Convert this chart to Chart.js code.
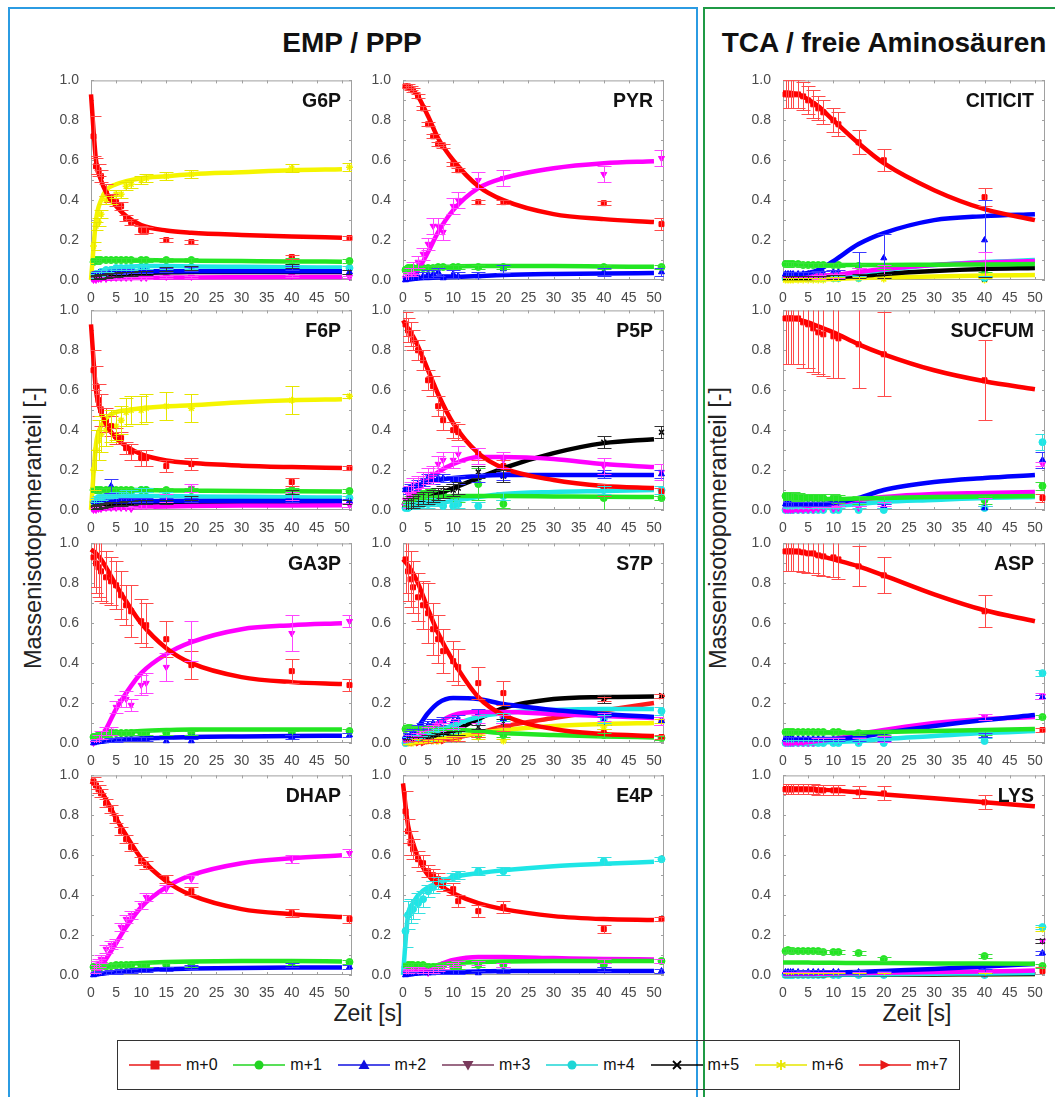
<!DOCTYPE html>
<html>
<head>
<meta charset="utf-8">
<script src="https://cdn.jsdelivr.net/npm/chart.js@4.4.0/dist/chart.umd.min.js"></script>
<style>
  body { margin: 0; width: 1055px; height: 1097px; overflow: hidden; background: #fff; position: relative; font-family: "Liberation Sans", Arial, sans-serif; }
  .frame { position: absolute; box-sizing: border-box; }
  .head { position: absolute; top: 27px; font-weight: bold; font-size: 28px; color: #111; text-align: center; white-space: nowrap; }
  .plabel { position: absolute; font-weight: bold; font-size: 19.5px; color: #111; text-align: right; white-space: nowrap; }
  .ylab { position: absolute; font-size: 23.5px; color: #222; white-space: nowrap; transform: translate(-50%, -50%) rotate(-90deg); }
  .xlab { position: absolute; font-size: 23px; color: #222; white-space: nowrap; transform: translate(-50%, -50%); }
  canvas { position: absolute; }
  #legend { position: absolute; left: 117px; top: 1040px; width: 843px; height: 50px; border: 1px solid #333; box-sizing: border-box; }
  .litem { position: absolute; top: 14px; height: 20px; font-size: 16px; color: #111; }
  .litem svg { position: absolute; left: 0; top: 0; }
  .litem span { position: absolute; left: 58px; top: 1px; white-space: nowrap; }
</style>
</head>
<body>
<div class="frame" style="left:8px;top:7px;width:690px;height:1110px;border:2.5px solid #2b9be2;"></div>
<div class="frame" style="left:703px;top:7px;width:400px;height:1110px;border:2.5px solid #1f9a45;"></div>
<div class="head" style="left:352px;transform:translateX(-50%);">EMP / PPP</div>
<div class="head" style="left:884px;transform:translateX(-50%);">TCA / freie Aminosäuren</div>
<div class="ylab" style="left:33px;top:528px;">Massenisotopomeranteil [-]</div>
<div class="ylab" style="left:718px;top:528px;">Massenisotopomeranteil [-]</div>
<div class="xlab" style="left:368px;top:1013px;">Zeit [s]</div>
<div class="xlab" style="left:917px;top:1013px;">Zeit [s]</div>
<div id="legend"></div>

<script>
// shared time grids
const tFit = [0, 1, 2, 3, 5, 7, 10, 15, 20, 30, 40, 50];
const tObs = [0.5, 1, 1.5, 2, 3, 4, 5, 6, 7, 8, 10, 11, 15, 20, 40, 51.5];

const isoLabels = ['m+0', 'm+1', 'm+2', 'm+3', 'm+4', 'm+5', 'm+6', 'm+7'];
const isoColors = ['#ff0000', '#22e622', '#0000ff', '#ff00ff', '#1ee6e6', '#000000', '#f5f500', '#ff1a1a'];
const errColors = ['#ff4a4a', '#3ae03a', '#3a3aff', '#ff45ff', '#35e0e0', '#303030', '#e6e600', '#ff4a4a'];
const legendColors = ['#e81818', '#22d422', '#1010e0', '#7a3a5c', '#1ed6d6', '#000000', '#e6e600', '#e81818'];
const isoMarkers = ['rect', 'circle', 'triangle', 'triangle', 'circle', 'crossRot', 'star', 'triangle'];
const isoRotation = [0, 0, 0, 180, 0, 0, 0, 90];

// ---- G6P ----
const g6pFit = [
  [0.93, 0.60, 0.50, 0.44, 0.37, 0.32, 0.275, 0.248, 0.237, 0.226, 0.218, 0.212],
  [0.095, 0.10, 0.10, 0.10, 0.10, 0.10, 0.10, 0.098, 0.097, 0.095, 0.093, 0.092],
  [0.03, 0.034, 0.037, 0.039, 0.041, 0.042, 0.043, 0.044, 0.044, 0.044, 0.044, 0.044],
  [0.0, 0.003, 0.005, 0.006, 0.008, 0.009, 0.01, 0.012, 0.013, 0.014, 0.015, 0.015],
  [0.02, 0.03, 0.04, 0.05, 0.06, 0.065, 0.07, 0.07, 0.068, 0.066, 0.064, 0.062],
  [0.01, 0.015, 0.02, 0.022, 0.027, 0.03, 0.035, 0.038, 0.04, 0.04, 0.04, 0.04],
  [0.0, 0.30, 0.40, 0.45, 0.48, 0.495, 0.51, 0.52, 0.53, 0.54, 0.55, 0.555]
];
const g6pObs = [
  [0.72, 0.57, 0.55, 0.52, 0.45, 0.41, 0.39, 0.37, 0.31, 0.29, 0.25, 0.25, 0.20, 0.19, 0.115, 0.21],
  [0.09, 0.10, 0.10, 0.10, 0.10, 0.10, 0.10, 0.10, 0.10, 0.10, 0.10, 0.10, 0.10, 0.10, 0.10, 0.095],
  [0.03, 0.03, 0.035, 0.035, 0.04, 0.04, 0.04, 0.04, 0.045, 0.045, 0.045, 0.045, 0.05, 0.055, 0.06, 0.04],
  [0.0, 0.0, 0.005, 0.005, 0.005, 0.01, 0.01, 0.01, 0.01, 0.01, 0.01, 0.01, 0.015, 0.015, 0.02, 0.015],
  [0.02, 0.03, 0.03, 0.04, 0.05, 0.05, 0.06, 0.06, 0.06, 0.06, 0.065, 0.065, 0.065, 0.065, 0.07, 0.06],
  [0.01, 0.015, 0.015, 0.02, 0.02, 0.025, 0.025, 0.03, 0.03, 0.03, 0.035, 0.035, 0.055, 0.06, 0.07, 0.04],
  [0.17, 0.27, 0.29, 0.33, 0.40, 0.40, 0.43, 0.43, 0.47, 0.48, 0.50, 0.51, 0.52, 0.53, 0.56, 0.565]
];
const g6pErr = [
  [0.1, 0.04, 0.03, 0.03, 0.03, 0.02, 0.02, 0.02, 0.015, 0.015, 0.02, 0.015, 0.01, 0.01, 0.01, 0.01],
  0.01, 0.01, 0.005, 0.01, 0.01, 0.02
];

// ---- PYR ----
const pyrFit = [
  [0.97, 0.965, 0.95, 0.92, 0.82, 0.71, 0.60, 0.47, 0.40, 0.33, 0.305, 0.29],
  [0.05, 0.055, 0.058, 0.06, 0.063, 0.065, 0.068, 0.07, 0.07, 0.07, 0.068, 0.066],
  [0.0, 0.002, 0.005, 0.008, 0.01, 0.012, 0.015, 0.02, 0.025, 0.03, 0.033, 0.035],
  [0.0, 0.005, 0.02, 0.05, 0.14, 0.24, 0.35, 0.46, 0.51, 0.56, 0.585, 0.595]
];
const pyrObs = [
  [0.97, 0.97, 0.96, 0.95, 0.92, 0.86, 0.78, 0.72, 0.68, 0.67, 0.58, 0.55, 0.39, 0.39, 0.385, 0.28],
  [0.05, 0.06, 0.06, 0.06, 0.06, 0.06, 0.06, 0.06, 0.065, 0.065, 0.065, 0.065, 0.065, 0.065, 0.065, 0.065],
  [0.0, 0.01, 0.01, 0.02, 0.02, 0.02, 0.03, 0.03, 0.04, 0.01, 0.03, 0.02, 0.02, 0.055, 0.04, 0.04],
  [0.01, 0.02, 0.04, 0.06, 0.09, 0.13, 0.18, 0.27, 0.27, 0.24, 0.37, 0.40, 0.50, 0.51, 0.53, 0.61]
];
const pyrErr = [
  [0.01, 0.01, 0.01, 0.01, 0.01, 0.01, 0.01, 0.01, 0.01, 0.01, 0.01, 0.01, 0.01, 0.01, 0.01, 0.03],
  0.01, 0.02,
  [0.02, 0.02, 0.02, 0.03, 0.03, 0.03, 0.03, 0.04, 0.04, 0.04, 0.04, 0.04, 0.04, 0.04, 0.04, 0.04]
];

// ---- CITICIT ----
const citFit = [
  [0.94, 0.94, 0.935, 0.93, 0.905, 0.87, 0.80, 0.685, 0.585, 0.45, 0.355, 0.30],
  [0.075, 0.075, 0.075, 0.075, 0.075, 0.075, 0.075, 0.075, 0.075, 0.077, 0.078, 0.08],
  [0.03, 0.03, 0.03, 0.03, 0.035, 0.05, 0.095, 0.18, 0.235, 0.30, 0.32, 0.33],
  [0.02, 0.02, 0.02, 0.02, 0.02, 0.022, 0.025, 0.04, 0.055, 0.075, 0.088, 0.095],
  [0.02, 0.02, 0.02, 0.02, 0.02, 0.022, 0.025, 0.035, 0.05, 0.075, 0.09, 0.10],
  [0.01, 0.01, 0.01, 0.01, 0.01, 0.012, 0.015, 0.02, 0.03, 0.045, 0.055, 0.06],
  [0.0, 0.0, 0.0, 0.0, 0.002, 0.003, 0.005, 0.01, 0.013, 0.018, 0.022, 0.025]
];
const citObs = [
  [0.93, 0.93, 0.93, 0.93, 0.93, 0.92, 0.90, 0.88, 0.86, 0.84, 0.80, 0.78, 0.69, 0.60, 0.415, null],
  [0.08, 0.08, 0.08, 0.08, 0.08, 0.075, 0.075, 0.075, 0.075, 0.075, 0.075, 0.075, 0.07, 0.065, 0.03, null],
  [0.03, 0.03, 0.03, 0.03, 0.03, 0.03, 0.03, 0.03, 0.035, 0.035, 0.04, 0.04, 0.07, 0.11, 0.20, null],
  [0.01, 0.01, 0.01, 0.01, 0.01, 0.01, 0.01, 0.01, 0.015, 0.015, 0.02, 0.02, 0.04, 0.045, 0.06, null],
  [0.01, 0.01, 0.01, 0.01, 0.01, 0.01, 0.01, 0.01, 0.01, 0.01, 0.01, 0.01, 0.01, 0.02, 0.01, null],
  [0.01, 0.01, 0.01, 0.01, 0.01, 0.01, 0.01, 0.01, 0.01, 0.01, 0.015, 0.015, 0.02, 0.02, 0.005, null],
  [0.0, 0.0, 0.0, 0.0, 0.0, 0.0, 0.0, 0.0, 0.0, 0.0, 0.005, 0.005, 0.005, 0.005, 0.0, null]
];
const citErr = [
  [0.07, 0.07, 0.07, 0.07, 0.07, 0.07, 0.07, 0.07, 0.06, 0.06, 0.06, 0.06, 0.06, 0.055, 0.045, 0],
  0.01,
  [0.01, 0.01, 0.01, 0.01, 0.01, 0.01, 0.01, 0.01, 0.01, 0.01, 0.01, 0.01, 0.07, 0.12, 0.2, 0],
  [0.01, 0.01, 0.01, 0.01, 0.01, 0.01, 0.01, 0.01, 0.01, 0.01, 0.01, 0.01, 0.02, 0.03, 0.08, 0],
  0.01, 0.01, 0.01
];

// ---- F6P ----
const f6pFit = [
  [0.93, 0.60, 0.49, 0.43, 0.36, 0.32, 0.28, 0.248, 0.235, 0.222, 0.215, 0.21],
  [0.10, 0.10, 0.10, 0.10, 0.10, 0.10, 0.10, 0.098, 0.097, 0.095, 0.094, 0.093],
  [0.03, 0.035, 0.038, 0.04, 0.042, 0.043, 0.044, 0.045, 0.045, 0.045, 0.045, 0.045],
  [0.0, 0.003, 0.005, 0.007, 0.01, 0.012, 0.015, 0.018, 0.02, 0.022, 0.023, 0.024],
  [0.03, 0.04, 0.05, 0.06, 0.065, 0.07, 0.07, 0.07, 0.068, 0.066, 0.064, 0.062],
  [0.01, 0.015, 0.02, 0.022, 0.027, 0.03, 0.035, 0.038, 0.04, 0.04, 0.04, 0.04],
  [0.0, 0.33, 0.42, 0.46, 0.49, 0.50, 0.51, 0.52, 0.525, 0.54, 0.55, 0.555]
];
const f6pObs = [
  [0.70, 0.62, 0.55, 0.50, 0.45, 0.42, 0.37, 0.36, 0.31, 0.29, 0.26, 0.26, 0.22, 0.23, 0.14, 0.21],
  [0.10, 0.10, 0.10, 0.10, 0.10, 0.10, 0.10, 0.10, 0.10, 0.10, 0.10, 0.10, 0.10, 0.10, 0.10, 0.095],
  [0.03, 0.03, 0.04, 0.04, 0.05, 0.12, 0.05, 0.05, 0.05, 0.05, 0.05, 0.05, 0.05, 0.05, 0.05, 0.045],
  [0.0, 0.0, 0.005, 0.005, 0.01, 0.01, 0.01, 0.01, 0.01, 0.005, 0.02, 0.02, 0.06, 0.11, 0.07, 0.025],
  [0.04, 0.05, 0.06, 0.06, 0.07, 0.07, 0.08, 0.08, 0.09, 0.09, 0.10, 0.10, 0.08, 0.06, 0.09, 0.06],
  [0.01, 0.015, 0.02, 0.02, 0.025, 0.03, 0.03, 0.03, 0.035, 0.035, 0.04, 0.04, 0.04, 0.06, 0.09, 0.04],
  [0.20, 0.30, 0.35, 0.38, 0.40, 0.42, 0.42, 0.45, 0.49, 0.50, 0.50, 0.51, 0.52, 0.51, 0.55, 0.57]
];
const f6pErr = [
  [0.1, 0.1, 0.08, 0.08, 0.06, 0.05, 0.04, 0.03, 0.03, 0.04, 0.04, 0.04, 0.03, 0.03, 0.02, 0.01],
  0.01,
  [0.01, 0.01, 0.01, 0.01, 0.01, 0.035, 0.01, 0.01, 0.01, 0.01, 0.01, 0.01, 0.01, 0.01, 0.01, 0.01],
  [0.01, 0.01, 0.01, 0.01, 0.01, 0.01, 0.01, 0.01, 0.01, 0.01, 0.01, 0.01, 0.02, 0.02, 0.02, 0.01],
  0.01, 0.01,
  [0.1, 0.1, 0.1, 0.09, 0.08, 0.08, 0.07, 0.07, 0.07, 0.07, 0.07, 0.07, 0.07, 0.07, 0.07, 0.01]
];

// ---- P5P ----
const p5pFit = [
  [0.95, 0.91, 0.87, 0.82, 0.70, 0.58, 0.435, 0.285, 0.21, 0.15, 0.12, 0.11],
  [0.03, 0.04, 0.05, 0.055, 0.06, 0.065, 0.07, 0.07, 0.07, 0.068, 0.066, 0.065],
  [0.10, 0.11, 0.12, 0.12, 0.14, 0.15, 0.16, 0.17, 0.175, 0.175, 0.175, 0.175],
  [0.02, 0.05, 0.08, 0.10, 0.15, 0.19, 0.23, 0.265, 0.265, 0.255, 0.23, 0.215],
  [0.01, 0.015, 0.02, 0.025, 0.03, 0.035, 0.045, 0.065, 0.08, 0.09, 0.095, 0.10],
  [0.01, 0.02, 0.03, 0.04, 0.06, 0.08, 0.11, 0.16, 0.21, 0.285, 0.335, 0.355]
];
const p5pObs = [
  [0.93, 0.90, 0.88, 0.85, 0.80, 0.75, 0.65, 0.62, 0.52, 0.45, 0.40, 0.39, 0.28, 0.22, 0.10, 0.09],
  [0.03, 0.04, 0.05, 0.06, 0.07, 0.08, 0.09, 0.09, 0.08, 0.08, 0.06, 0.06, 0.13, 0.03, 0.06, 0.06],
  [0.10, 0.10, 0.11, 0.12, 0.13, 0.14, 0.16, 0.15, 0.16, 0.16, 0.15, 0.15, 0.16, 0.17, 0.18, 0.18],
  [0.05, 0.08, 0.10, 0.12, 0.13, 0.15, 0.17, 0.18, 0.23, 0.25, 0.25, 0.28, 0.27, 0.25, 0.22, 0.19],
  [0.01, 0.01, 0.02, 0.02, 0.02, 0.03, 0.03, 0.04, 0.04, 0.02, 0.02, 0.03, 0.02, 0.07, 0.10, 0.10],
  [0.02, 0.03, 0.03, 0.04, 0.05, 0.06, 0.06, 0.07, 0.08, 0.09, 0.10, 0.11, 0.19, 0.17, 0.34, 0.39]
];
const p5pErr = [
  [0.06, 0.06, 0.06, 0.05, 0.05, 0.05, 0.05, 0.05, 0.05, 0.05, 0.04, 0.04, 0.03, 0.03, 0.03, 0.02],
  [0.02, 0.02, 0.02, 0.02, 0.02, 0.02, 0.02, 0.02, 0.02, 0.02, 0.02, 0.02, 0.08, 0.02, 0.06, 0.01],
  0.02, 0.04, 0.02, 0.03
];

// ---- SUCFUM ----
const sucFit = [
  [0.96, 0.96, 0.958, 0.955, 0.94, 0.92, 0.89, 0.83, 0.78, 0.70, 0.645, 0.605],
  [0.06, 0.06, 0.06, 0.06, 0.058, 0.055, 0.055, 0.058, 0.06, 0.065, 0.068, 0.07],
  [0.03, 0.03, 0.03, 0.03, 0.03, 0.03, 0.035, 0.06, 0.10, 0.14, 0.16, 0.175],
  [0.0, 0.0, 0.0, 0.0, 0.005, 0.01, 0.03, 0.05, 0.065, 0.08, 0.085, 0.09],
  [0.01, 0.01, 0.01, 0.01, 0.012, 0.015, 0.02, 0.03, 0.04, 0.05, 0.06, 0.065]
];
const sucObs = [
  [0.96, 0.96, 0.96, 0.96, 0.96, 0.94, 0.93, 0.91, 0.89, 0.88, 0.87, 0.86, 0.83, 0.78, 0.65, 0.06],
  [0.07, 0.07, 0.07, 0.07, 0.065, 0.06, 0.06, 0.06, 0.06, 0.06, 0.06, 0.055, 0.05, 0.05, 0.05, 0.12],
  [0.03, 0.03, 0.03, 0.03, 0.03, 0.03, 0.03, 0.03, 0.03, 0.03, 0.03, 0.03, 0.03, 0.02, 0.01, 0.25],
  [0.0, 0.0, 0.0, 0.0, 0.0, 0.0, 0.0, 0.0, 0.005, 0.005, 0.005, 0.01, 0.01, 0.03, 0.04, 0.23],
  [0.0, 0.0, 0.0, 0.0, 0.0, 0.0, 0.0, 0.0, 0.0, 0.0, 0.0, 0.0, 0.0, 0.0, 0.01, 0.34]
];
const sucErr = [
  [0.23, 0.23, 0.23, 0.23, 0.23, 0.23, 0.22, 0.22, 0.21, 0.21, 0.21, 0.2, 0.22, 0.21, 0.2, 0.02],
  0.02,
  [0.01, 0.01, 0.01, 0.01, 0.01, 0.01, 0.01, 0.01, 0.01, 0.01, 0.01, 0.01, 0.01, 0.01, 0.01, 0.04],
  [0.01, 0.01, 0.01, 0.01, 0.01, 0.01, 0.01, 0.01, 0.01, 0.01, 0.01, 0.01, 0.01, 0.01, 0.02, 0.01],
  [0.01, 0.01, 0.01, 0.01, 0.01, 0.01, 0.01, 0.01, 0.01, 0.01, 0.01, 0.01, 0.01, 0.01, 0.01, 0.04]
];

// ---- GA3P ----
const ga3pFit = [
  [0.97, 0.95, 0.92, 0.88, 0.79, 0.71, 0.60, 0.475, 0.40, 0.33, 0.305, 0.295],
  [0.03, 0.035, 0.04, 0.045, 0.05, 0.055, 0.06, 0.065, 0.068, 0.068, 0.068, 0.068],
  [0.0, 0.003, 0.006, 0.01, 0.015, 0.02, 0.022, 0.026, 0.03, 0.033, 0.035, 0.036],
  [0.0, 0.005, 0.03, 0.07, 0.17, 0.25, 0.35, 0.445, 0.505, 0.57, 0.59, 0.60]
];
const ga3pObs = [
  [0.93, 0.90, 0.88, 0.86, 0.83, 0.81, 0.79, 0.74, 0.69, 0.66, 0.61, 0.59, 0.52, 0.39, 0.36, 0.29],
  [0.03, 0.03, 0.04, 0.04, 0.04, 0.05, 0.05, 0.05, 0.05, 0.05, 0.05, 0.05, 0.05, 0.05, 0.05, 0.06],
  [0.0, 0.005, 0.01, 0.01, 0.01, 0.015, 0.015, 0.02, 0.02, 0.02, 0.02, 0.02, 0.01, 0.01, 0.03, 0.04],
  [0.0, 0.01, 0.02, 0.04, 0.06, 0.06, 0.18, 0.21, 0.22, 0.19, 0.29, 0.30, 0.38, 0.51, 0.55, 0.61]
];
const ga3pErr = [
  [0.15, 0.15, 0.15, 0.15, 0.13, 0.12, 0.12, 0.12, 0.10, 0.13, 0.11, 0.11, 0.09, 0.07, 0.06, 0.03],
  0.01, 0.01,
  [0.01, 0.01, 0.02, 0.02, 0.02, 0.02, 0.03, 0.03, 0.04, 0.03, 0.05, 0.05, 0.07, 0.10, 0.09, 0.03]
];

// ---- S7P ----
const s7pFit = [
  [0.92, 0.89, 0.85, 0.80, 0.67, 0.55, 0.41, 0.23, 0.14, 0.07, 0.045, 0.035],
  [0.08, 0.08, 0.08, 0.078, 0.075, 0.072, 0.068, 0.06, 0.05, 0.04, 0.033, 0.028],
  [0.02, 0.03, 0.05, 0.08, 0.15, 0.20, 0.225, 0.22, 0.195, 0.165, 0.145, 0.13],
  [0.01, 0.015, 0.02, 0.03, 0.06, 0.10, 0.14, 0.155, 0.155, 0.145, 0.135, 0.125],
  [0.005, 0.01, 0.015, 0.02, 0.04, 0.06, 0.09, 0.13, 0.15, 0.165, 0.17, 0.17],
  [0.01, 0.012, 0.015, 0.02, 0.03, 0.04, 0.06, 0.12, 0.175, 0.22, 0.23, 0.233],
  [0.0, 0.0, 0.002, 0.005, 0.01, 0.02, 0.03, 0.05, 0.065, 0.085, 0.095, 0.10],
  [0.0, 0.0, 0.001, 0.002, 0.006, 0.012, 0.025, 0.05, 0.083, 0.125, 0.163, 0.20]
];
const s7pObs = [
  [0.92, 0.86, 0.82, 0.78, 0.73, 0.69, 0.65, 0.57, 0.52, 0.46, 0.41, 0.38, 0.30, 0.25, 0.05, 0.03],
  [0.07, 0.075, 0.075, 0.07, 0.07, 0.07, 0.065, 0.06, 0.06, 0.06, 0.05, 0.05, 0.04, 0.04, 0.04, 0.025],
  [0.03, 0.03, 0.04, 0.05, 0.07, 0.08, 0.09, 0.10, 0.10, 0.11, 0.11, 0.12, 0.15, 0.12, 0.11, 0.11],
  [0.01, 0.01, 0.02, 0.02, 0.03, 0.04, 0.06, 0.07, 0.08, 0.08, 0.09, 0.10, 0.12, 0.12, 0.13, 0.11],
  [0.0, 0.01, 0.01, 0.01, 0.02, 0.02, 0.03, 0.04, 0.05, 0.06, 0.07, 0.08, 0.11, 0.13, 0.12, 0.16],
  [0.01, 0.01, 0.01, 0.02, 0.02, 0.02, 0.03, 0.03, 0.04, 0.04, 0.05, 0.05, 0.08, 0.10, 0.22, 0.235],
  [0.0, 0.0, 0.0, 0.0, 0.01, 0.01, 0.01, 0.01, 0.01, 0.02, 0.02, 0.02, 0.03, 0.01, 0.08, 0.11],
  [0.0, 0.0, 0.0, 0.0, 0.0, 0.0, 0.01, 0.01, 0.01, 0.01, 0.02, 0.02, 0.04, 0.07, 0.22, 0.235]
];
const s7pErr = [
  [0.17, 0.15, 0.14, 0.13, 0.12, 0.12, 0.15, 0.13, 0.12, 0.11, 0.10, 0.09, 0.08, 0.06, 0.02, 0.01],
  0.01, 0.02, 0.02, 0.02,
  [0.01, 0.01, 0.01, 0.01, 0.01, 0.01, 0.01, 0.01, 0.01, 0.01, 0.01, 0.01, 0.01, 0.02, 0.02, 0.01],
  0.01, 0.01
];

// ---- ASP ----
const aspFit = [
  [0.96, 0.96, 0.958, 0.955, 0.95, 0.94, 0.92, 0.885, 0.84, 0.745, 0.665, 0.61],
  [0.055, 0.055, 0.055, 0.055, 0.052, 0.05, 0.05, 0.052, 0.055, 0.06, 0.065, 0.07],
  [0.02, 0.02, 0.02, 0.02, 0.02, 0.02, 0.02, 0.03, 0.05, 0.085, 0.115, 0.14],
  [0.0, 0.0, 0.0, 0.0, 0.005, 0.01, 0.02, 0.045, 0.065, 0.10, 0.12, 0.13],
  [0.0, 0.0, 0.0, 0.0, 0.0, 0.002, 0.005, 0.01, 0.02, 0.035, 0.05, 0.06]
];
const aspObs = [
  [0.96, 0.96, 0.96, 0.96, 0.96, 0.955, 0.95, 0.95, 0.94, 0.935, 0.93, 0.92, 0.885, 0.84, 0.66, 0.065],
  [0.055, 0.055, 0.055, 0.055, 0.055, 0.055, 0.055, 0.055, 0.055, 0.055, 0.055, 0.055, 0.05, 0.05, 0.05, 0.13],
  [0.02, 0.02, 0.02, 0.02, 0.02, 0.02, 0.02, 0.02, 0.02, 0.02, 0.02, 0.02, 0.02, 0.02, 0.04, 0.23],
  [0.0, 0.0, 0.0, 0.0, 0.0, 0.0, 0.0, 0.0, 0.01, 0.01, 0.01, 0.01, 0.01, 0.02, 0.13, 0.235],
  [0.0, 0.0, 0.0, 0.0, 0.0, 0.0, 0.0, 0.0, 0.0, 0.0, 0.0, 0.0, 0.0, 0.0, 0.01, 0.35]
];
const aspErr = [
  [0.1, 0.1, 0.1, 0.1, 0.1, 0.1, 0.1, 0.1, 0.1, 0.1, 0.1, 0.1, 0.1, 0.09, 0.08, 0.01],
  0.01, 0.01, 0.015, 0.015
];

// ---- DHAP ----
const dhapFit = [
  [0.97, 0.95, 0.92, 0.88, 0.785, 0.70, 0.585, 0.47, 0.40, 0.33, 0.305, 0.29],
  [0.03, 0.035, 0.04, 0.045, 0.05, 0.055, 0.06, 0.065, 0.068, 0.07, 0.07, 0.068],
  [0.0, 0.003, 0.006, 0.01, 0.015, 0.02, 0.025, 0.03, 0.032, 0.035, 0.037, 0.038],
  [0.0, 0.01, 0.04, 0.08, 0.16, 0.24, 0.34, 0.44, 0.50, 0.56, 0.585, 0.60]
];
const dhapObs = [
  [0.97, 0.95, 0.93, 0.91, 0.86, 0.83, 0.78, 0.72, 0.68, 0.64, 0.57, 0.55, 0.48, 0.42, 0.31, 0.28],
  [0.04, 0.04, 0.04, 0.04, 0.045, 0.045, 0.05, 0.05, 0.05, 0.05, 0.05, 0.05, 0.05, 0.05, 0.06, 0.065],
  [0.0, 0.005, 0.01, 0.01, 0.01, 0.015, 0.015, 0.02, 0.02, 0.02, 0.025, 0.025, 0.03, 0.04, 0.05, 0.04],
  [0.03, 0.05, 0.06, 0.08, 0.13, 0.15, 0.16, 0.24, 0.28, 0.30, 0.35, 0.39, 0.43, 0.48, 0.58, 0.61]
];
const dhapErr = [0.02, 0.01, 0.01, 0.02];

// ---- E4P ----
const e4pFit = [
  [0.96, 0.75, 0.66, 0.59, 0.50, 0.455, 0.41, 0.36, 0.33, 0.295, 0.28, 0.275],
  [0.05, 0.05, 0.05, 0.05, 0.045, 0.05, 0.06, 0.065, 0.068, 0.07, 0.07, 0.07],
  [0.0, 0.002, 0.005, 0.008, 0.01, 0.012, 0.015, 0.018, 0.02, 0.02, 0.02, 0.02],
  [0.01, 0.015, 0.02, 0.02, 0.03, 0.05, 0.075, 0.09, 0.09, 0.085, 0.08, 0.078],
  [0.0, 0.30, 0.36, 0.40, 0.44, 0.46, 0.49, 0.51, 0.525, 0.545, 0.557, 0.567]
];
const e4pObs = [
  [0.82, 0.72, 0.66, 0.63, 0.58, 0.56, 0.52, 0.50, 0.48, 0.45, 0.43, 0.37, 0.32, 0.34, 0.23, 0.28],
  [0.04, 0.05, 0.05, 0.05, 0.05, 0.05, 0.04, 0.04, 0.04, 0.05, 0.04, 0.04, 0.05, 0.05, 0.05, 0.07],
  [0.0, 0.005, 0.005, 0.01, 0.01, 0.01, 0.01, 0.01, 0.015, 0.015, 0.015, 0.015, 0.01, 0.02, 0.03, 0.02],
  [0.02, 0.02, 0.03, 0.03, 0.03, 0.02, 0.01, 0.02, 0.03, 0.04, 0.05, 0.06, 0.06, 0.05, 0.07, 0.07],
  [0.22, 0.30, 0.32, 0.33, 0.36, 0.38, 0.42, 0.44, 0.46, 0.47, 0.49, 0.50, 0.52, 0.52, 0.57, 0.58]
];
const e4pErr = [
  [0.1, 0.06, 0.06, 0.05, 0.04, 0.04, 0.03, 0.03, 0.03, 0.03, 0.03, 0.03, 0.03, 0.03, 0.02, 0.01],
  0.01, 0.01, 0.01,
  [0.08, 0.07, 0.06, 0.05, 0.05, 0.04, 0.03, 0.03, 0.03, 0.02, 0.02, 0.02, 0.02, 0.02, 0.02, 0.01]
];

// ---- LYS ----
const lysFit = [
  [0.935, 0.935, 0.934, 0.933, 0.932, 0.93, 0.925, 0.915, 0.905, 0.885, 0.865, 0.845],
  [0.062, 0.062, 0.062, 0.062, 0.062, 0.061, 0.061, 0.06, 0.06, 0.058, 0.057, 0.056],
  [0.01, 0.01, 0.01, 0.01, 0.01, 0.011, 0.012, 0.015, 0.02, 0.03, 0.043, 0.055],
  [0.005, 0.005, 0.005, 0.005, 0.005, 0.006, 0.007, 0.009, 0.011, 0.015, 0.018, 0.022],
  [0.0, 0.0, 0.0, 0.0, 0.0, 0.001, 0.002, 0.003, 0.004, 0.006, 0.008, 0.01],
  [0.0, 0.0, 0.0, 0.0, 0.0, 0.0, 0.001, 0.001, 0.002, 0.003, 0.004, 0.005],
  [0.0, 0.0, 0.0, 0.0, 0.0, 0.0, 0.001, 0.001, 0.002, 0.003, 0.004, 0.005]
];
const lysObs = [
  [0.93, 0.93, 0.93, 0.93, 0.93, 0.93, 0.93, 0.93, 0.925, 0.925, 0.925, 0.925, 0.915, 0.91, 0.865, 0.02],
  [0.12, 0.125, 0.12, 0.12, 0.12, 0.12, 0.12, 0.12, 0.12, 0.115, 0.115, 0.115, 0.11, 0.08, 0.095, 0.045],
  [0.015, 0.015, 0.015, 0.015, 0.015, 0.01, 0.015, 0.015, 0.015, 0.015, 0.015, 0.015, 0.015, 0.01, 0.02, 0.11],
  [0.005, 0.005, 0.005, 0.005, 0.005, 0.005, 0.005, 0.005, 0.005, 0.005, 0.005, 0.005, 0.005, 0.005, 0.005, 0.17],
  [0.0, 0.0, 0.0, 0.0, 0.0, 0.0, 0.0, 0.0, 0.0, 0.0, 0.0, 0.0, 0.0, 0.0, 0.0, 0.24],
  [0.0, 0.0, 0.0, 0.0, 0.0, 0.0, 0.0, 0.0, 0.0, 0.0, 0.0, 0.0, 0.0, 0.0, 0.0, 0.17],
  [0.0, 0.0, 0.0, 0.0, 0.0, 0.0, 0.0, 0.0, 0.0, 0.0, 0.0, 0.0, 0.0, 0.0, 0.0, 0.23]
];
const lysErr = [
  [0.025, 0.025, 0.025, 0.025, 0.025, 0.025, 0.025, 0.025, 0.025, 0.025, 0.025, 0.025, 0.03, 0.035, 0.035, 0.02],
  0.01, 0.01, 0.01, 0.01, 0.01, 0.01
];

// plot-area positions (page px)
const colLeft = [91, 403, 783];
const colWidth = [261, 261, 262];
const rowTop = [78, 308, 541, 773];
const plotH = 202;
const padL = 46, padT = 10, padR = 10, padB = 24;

const panels = [
  ['G6P', 0, 0, g6pFit, g6pObs, g6pErr],
  ['PYR', 1, 0, pyrFit, pyrObs, pyrErr],
  ['CITICIT', 2, 0, citFit, citObs, citErr],
  ['F6P', 0, 1, f6pFit, f6pObs, f6pErr],
  ['P5P', 1, 1, p5pFit, p5pObs, p5pErr],
  ['SUCFUM', 2, 1, sucFit, sucObs, sucErr],
  ['GA3P', 0, 2, ga3pFit, ga3pObs, ga3pErr],
  ['S7P', 1, 2, s7pFit, s7pObs, s7pErr],
  ['ASP', 2, 2, aspFit, aspObs, aspErr],
  ['DHAP', 0, 3, dhapFit, dhapObs, dhapErr],
  ['E4P', 1, 3, e4pFit, e4pObs, e4pErr],
  ['LYS', 2, 3, lysFit, lysObs, lysErr]
];

// plot box + inward ticks, drawn under the data
const framePlugin = {
  id: 'frame',
  beforeDatasetsDraw(chart) {
    const { ctx, chartArea: a, scales: { x, y } } = chart;
    ctx.save();
    ctx.strokeStyle = '#a0a0a0';
    ctx.lineWidth = 1;
    ctx.strokeRect(a.left + 0.5, a.top + 0.5, a.width - 1, a.height - 1);
    ctx.beginPath();
    for (let k = 0; k <= 10; k++) {
      const py = Math.round(y.getPixelForValue(k / 10)) + 0.5;
      ctx.moveTo(a.left, py); ctx.lineTo(a.left + 3, py);
      ctx.moveTo(a.right, py); ctx.lineTo(a.right - 3, py);
    }
    for (let k = 0; k <= 10; k++) {
      const px = Math.round(x.getPixelForValue(k * 5)) + 0.5;
      ctx.moveTo(px, a.bottom); ctx.lineTo(px, a.bottom - 3);
      ctx.moveTo(px, a.top); ctx.lineTo(px, a.top + 3);
    }
    ctx.stroke();
    ctx.restore();
  }
};

// vertical error bars with wide caps
const errorBarPlugin = {
  id: 'errorBars',
  afterDatasetsDraw(chart) {
    const { ctx, chartArea: a, scales: { x, y } } = chart;
    ctx.save();
    ctx.beginPath();
    ctx.rect(a.left, a.top, a.width, a.height);
    ctx.clip();
    ctx.lineWidth = 1;
    chart.data.datasets.forEach(ds => {
      if (ds.errors === undefined) return;
      ds.data.forEach((p, j) => {
        const e = Array.isArray(ds.errors) ? ds.errors[j] : ds.errors;
        if (p.y === null || !e) return;
        const px = Math.round(x.getPixelForValue(p.x)) + 0.5;
        const lo = Math.round(y.getPixelForValue(p.y - e)) + 0.5;
        const hi = Math.round(y.getPixelForValue(p.y + e)) + 0.5;
        ctx.strokeStyle = ds.errColor;
        ctx.beginPath();
        ctx.moveTo(px, lo); ctx.lineTo(px, hi);
        ctx.moveTo(px - 7, lo); ctx.lineTo(px + 7, lo);
        ctx.moveTo(px - 7, hi); ctx.lineTo(px + 7, hi);
        ctx.stroke();
      });
    });
    ctx.restore();
  }
};

const tickFont = { family: '"Liberation Sans", Arial, sans-serif', size: 14 };

panels.forEach(([name, col, row, fits, obs, errs]) => {
  const L = colLeft[col], T = rowTop[row], W = colWidth[col];
  const cv = document.createElement('canvas');
  cv.width = W + padL + padR;
  cv.height = plotH + padT + padB;
  cv.style.left = (L - padL) + 'px';
  cv.style.top = (T - padT) + 'px';
  document.body.appendChild(cv);

  const lab = document.createElement('div');
  lab.className = 'plabel';
  lab.textContent = name;
  lab.style.right = (1055 - (L + W - 11)) + 'px';
  lab.style.top = (T + 11) + 'px';
  document.body.appendChild(lab);

  const datasets = [];
  fits.forEach((f, k) => {
    datasets.push({
      data: f.map((v, i) => ({ x: tFit[i], y: v })),
      showLine: true,
      borderColor: isoColors[k],
      borderWidth: 4.5,
      pointRadius: 0,
      cubicInterpolationMode: 'monotone',
      fill: false,
      clip: 3
    });
  });
  obs.forEach((o, k) => {
    datasets.push({
      data: o.map((v, i) => ({ x: tObs[i], y: v })),
      showLine: false,
      pointStyle: isoMarkers[k],
      pointRotation: isoRotation[k],
      pointRadius: 3.5,
      pointBorderWidth: k === 5 || k === 6 ? 1.5 : 1,
      backgroundColor: isoColors[k],
      borderColor: isoColors[k],
      errors: errs[k],
      errColor: errColors[k],
      clip: 6
    });
  });

  new Chart(cv, {
    type: 'scatter',
    data: { datasets },
    options: {
      responsive: false,
      animation: false,
      layout: { padding: { left: 0, top: padT, right: padR, bottom: 0 } },
      plugins: { legend: { display: false }, tooltip: { enabled: false } },
      scales: {
        x: {
          type: 'linear', min: 0, max: 52,
          grid: { display: false }, border: { display: false },
          ticks: { stepSize: 5, includeBounds: false, autoSkip: false, maxRotation: 0, padding: 2, font: tickFont, color: '#4a4a4a' },
          afterFit: s => { s.height = padB; }
        },
        y: {
          min: 0, max: 1,
          grid: { display: false }, border: { display: false },
          ticks: { stepSize: 0.2, padding: 4, font: tickFont, color: '#4a4a4a', callback: v => v.toFixed(1) },
          afterFit: s => { s.width = padL; }
        }
      }
    },
    plugins: [framePlugin, errorBarPlugin]
  });
});

// legend row
const legend = document.getElementById('legend');
const markerSvg = [
  c => `<rect x="22.5" y="5.5" width="9" height="9" fill="${c}"/>`,
  c => `<circle cx="27" cy="10" r="4.5" fill="${c}"/>`,
  c => `<polygon points="27,4.5 32.5,14 21.5,14" fill="${c}"/>`,
  c => `<polygon points="21.5,6 32.5,6 27,15.5" fill="${c}"/>`,
  c => `<circle cx="27" cy="10" r="4.5" fill="${c}"/>`,
  c => `<path d="M23,6 L31,14 M31,6 L23,14" stroke="${c}" stroke-width="1.8"/>`,
  c => `<path d="M27,5 L27,15 M22.5,7.5 L31.5,12.5 M31.5,7.5 L22.5,12.5" stroke="${c}" stroke-width="1.8"/>`,
  c => `<polygon points="22.5,5 32.5,10 22.5,15" fill="${c}"/>`
];
isoLabels.forEach((txt, k) => {
  const c = legendColors[k];
  const item = document.createElement('div');
  item.className = 'litem';
  item.style.left = (10 + k * 104.3) + 'px';
  item.innerHTML = `<svg width="56" height="20"><line x1="1" y1="10" x2="53" y2="10" stroke="${c}" stroke-width="1.5"/>${markerSvg[k](c)}</svg><span>${txt}</span>`;
  legend.appendChild(item);
});
</script>
</body>
</html>
